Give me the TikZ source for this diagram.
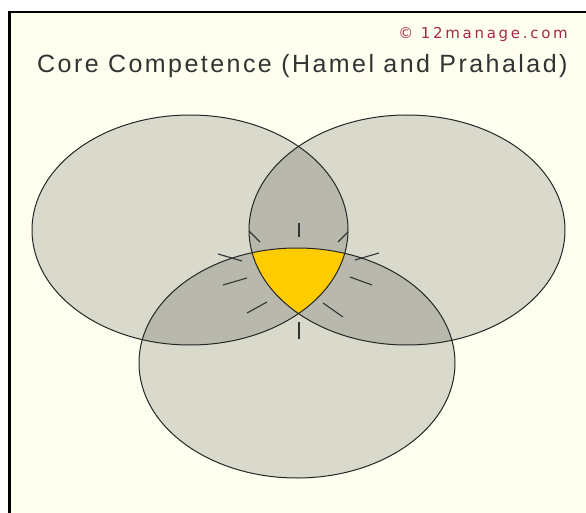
\documentclass[tikz,border=0pt]{standalone}
\usepackage{fontspec}
\setmainfont{Liberation Sans}
\newfontfamily\titlefont[LetterSpace=9.8]{Liberation Sans}
\newfontfamily\notefont[LetterSpace=18]{DejaVu Sans}
\definecolor{paper}{HTML}{FFFFF0}
\definecolor{core}{HTML}{FFCC00}
\definecolor{mark}{HTML}{A8284C}
\definecolor{ink}{HTML}{333333}
\begin{document}
\begin{tikzpicture}[x=1pt, y=-1pt,
    ring/.style={draw=black!85, line width=1pt},
    shade/.style={fill=black, fill opacity=0.15},
    spoke/.style={black!80, line width=1.1pt}]
  \useasboundingbox (0,0) rectangle (586,513);
  % page and frame
  \fill[paper] (9,12) rectangle (586,513);
  \draw[line width=2pt] (8,12) -- (586,12);
  \draw[line width=3pt] (9,11) -- (9,513);

  % headings
  \node[font=\notefont\fontsize{15}{18}\selectfont, text=mark, anchor=base east, inner sep=0pt]
    (copy) at (568,39) {© 12manage.com};
  \node[font=\titlefont\fontsize{25}{30}\selectfont, text=ink, anchor=base west, inner sep=0pt]
    (title) at (37,73) {Core Competence (Hamel and Prahalad)};

  % three circles, overlaps get darker
  \fill[shade] (190,230) ellipse [x radius=158, y radius=115];
  \fill[shade] (407,230) ellipse [x radius=158, y radius=115];
  \fill[shade] (297,363) ellipse [x radius=158, y radius=115];

  % the common core
  \begin{scope}
    \clip (190,230) ellipse [x radius=158, y radius=115];
    \clip (407,230) ellipse [x radius=158, y radius=115];
    \fill[core] (297,363) ellipse [x radius=158, y radius=115];
  \end{scope}

  \draw[ring] (190,230) ellipse [x radius=158, y radius=115];
  \draw[ring] (407,230) ellipse [x radius=158, y radius=115];
  \draw[ring] (297,363) ellipse [x radius=158, y radius=115];

  % short spokes round the core
  \foreach \a/\b in {{(299,223)}/{(299,237)}, {(249,231)}/{(260,242)}, {(338,242)}/{(348,232)},
                     {(218,254)}/{(242,261)}, {(355,260)}/{(379,253)}, {(223,285)}/{(247,278)},
                     {(350,277)}/{(372,285)}, {(247,313)}/{(267,302)}, {(323,303)}/{(343,317)},
                     {(299,322)}/{(299,339)}}
    \draw[spoke] \a -- \b;
\end{tikzpicture}
\end{document}
